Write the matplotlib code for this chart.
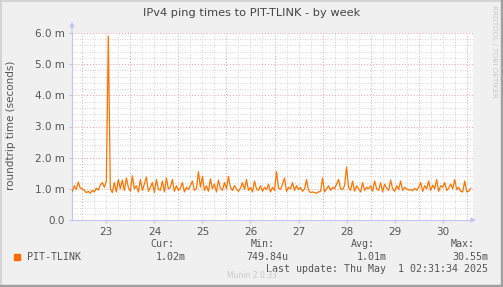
import matplotlib
matplotlib.use("Agg")
import matplotlib.pyplot as plt
import numpy as np

# ---- data ----
day_labels = ["23", "24", "25", "26", "27", "28", "29", "30"]
yticks = [0.0, 1.0, 2.0, 3.0, 4.0, 5.0, 6.0]
ytick_labels = ["0.0", "1.0 m", "2.0 m", "3.0 m", "4.0 m", "5.0 m", "6.0 m"]

pre = [0.92, 1.10, 0.98, 1.22, 1.02]
d23 = [1.00, 0.95, 0.88, 0.92, 0.86, 0.95, 0.90, 1.02, 0.96, 1.12, 1.20, 1.05,
       1.25, 5.90, 1.00, 0.88, 1.20, 0.90, 1.30, 1.00, 1.28, 0.95, 1.35, 1.05]
d24 = [0.92, 1.42, 1.00, 1.10, 0.90, 1.30, 0.95, 1.15, 1.38, 0.92, 1.05, 1.20,
       0.88, 1.30, 1.00, 0.95, 1.25, 0.90, 1.35, 1.00, 1.05, 1.30, 0.92, 1.10]
d25 = [0.95, 1.02, 1.20, 0.90, 1.05, 0.98, 1.10, 1.25, 0.95, 1.00, 1.55, 1.05,
       1.40, 0.95, 1.10, 0.92, 1.32, 1.00, 1.15, 0.90, 1.28, 1.02, 0.95, 1.20]
d26 = [1.00, 1.40, 1.05, 0.95, 1.10, 1.00, 0.92, 1.02, 1.20, 0.98, 1.30, 0.95,
       1.05, 0.90, 1.25, 1.00, 0.95, 1.10, 0.92, 1.05, 0.98, 1.15, 0.90, 1.05]
d27 = [0.95, 1.55, 1.02, 0.98, 1.15, 1.35, 0.92, 1.05, 1.00, 1.20, 0.95, 1.10,
       0.98, 1.05, 0.92, 1.00, 1.30, 0.95, 0.88, 0.90, 0.88, 0.86, 0.90, 0.92]
d28 = [1.35, 0.90, 1.00, 1.10, 0.95, 1.05, 1.00, 1.15, 1.30, 1.00, 0.98, 1.10,
       1.70, 1.05, 0.95, 1.25, 0.92, 1.10, 1.00, 0.90, 1.20, 0.95, 1.05, 1.00]
d29 = [1.10, 0.92, 1.25, 1.00, 0.95, 1.20, 0.90, 1.15, 1.02, 0.95, 1.28, 1.00,
       0.92, 1.10, 0.98, 1.25, 0.95, 1.05, 1.00, 0.96, 0.98, 0.94, 1.02, 0.95]
d30 = [1.05, 1.20, 0.92, 1.10, 1.00, 1.25, 0.95, 1.12, 1.00, 1.30, 0.92, 1.10,
       1.05, 1.20, 0.95, 1.02, 1.15, 1.00, 1.30, 0.98, 1.05, 0.92, 0.90, 1.25]
post = [0.90, 0.92, 1.02]

values_ms = np.array(pre + d23 + d24 + d25 + d26 + d27 + d28 + d29 + d30 + post)
# time axis in days (0 = Apr 22 00:00), hourly samples
t_start = 1.0 - 5 / 24
times = t_start + np.arange(len(values_ms)) / 24.0

legend_name = "PIT-TLINK"
cur, vmin, avg, vmax = "1.02m", "749.84u", "1.01m", "30.55m"
last_update = "Last update: Thu May  1 02:31:34 2025"

# ---- figure ----
W, H = 503, 287
fig = plt.figure(figsize=(W / 100, H / 100), dpi=100, facecolor="#F0F0F0")

ax_l, ax_r, ax_t, ax_b = 72, 473, 33, 220
ax = fig.add_axes([ax_l / W, 1 - ax_b / H, (ax_r - ax_l) / W, (ax_b - ax_t) / H])
ax.set_facecolor("white")
xmin, xmax = 0.7856, 9.131
ax.set_xlim(xmin, xmax)
ax.set_ylim(0, 6.0)

# grid
minor_col = "#C8C8C8"
major_col = "#F0A0A0"
for y in np.arange(0.2, 6.01, 0.2):
    if abs(y - round(y)) > 1e-6:
        ax.axhline(y, color=minor_col, lw=0.6, ls=(0, (1, 2)), zorder=1)
for x in np.arange(1.0 - 0.75, 9.5, 0.25):
    if xmin < x < xmax and abs(x - round(x)) > 1e-6:
        ax.axvline(x, color=minor_col, lw=0.6, ls=(0, (1, 2)), zorder=1)
for y in yticks[1:]:
    ax.axhline(y, color=major_col, lw=0.7, ls=(0, (1, 2)), zorder=1.5)
for d in range(1, 10):
    ax.axvline(d, color=major_col, lw=0.7, ls=(0, (1, 2)), zorder=1.5)

ax.plot(times, values_ms, color="#FF7400", lw=0.9, zorder=3)

for s in ["top", "right"]:
    ax.spines[s].set_visible(False)
axis_col = "#C4C4F4"
ax.spines["left"].set_color(axis_col)
ax.spines["bottom"].set_color(axis_col)
ax.spines["left"].set_linewidth(0.8)
ax.spines["bottom"].set_linewidth(0.8)
# arrows
ax.annotate("", xy=(xmin, 6.0 + 0.45), xytext=(xmin, 5.9),
            arrowprops=dict(arrowstyle="-|>", color=axis_col, lw=0.8, mutation_scale=7),
            annotation_clip=False)
ax.annotate("", xy=(xmax + 0.12, 0), xytext=(xmax - 0.05, 0),
            arrowprops=dict(arrowstyle="-|>", color=axis_col, lw=0.8, mutation_scale=7),
            annotation_clip=False)

txt_col = "#555555"
ax.set_yticks(yticks)
ax.set_yticklabels(ytick_labels, fontsize=7.5, color=txt_col)
ax.set_xticks([d + 0.5 for d in range(1, 9)])
ax.set_xticklabels(day_labels, fontsize=7.5, color=txt_col)
ax.tick_params(axis="both", length=2, color=axis_col, pad=3)

fig.text(11 / W, 1 - 125 / H, "roundtrip time (seconds)", rotation=90,
         ha="center", va="center", fontsize=7.5, color=txt_col)
fig.text(252 / W, 1 - 13 / H, "IPv4 ping times to PIT-TLINK - by week",
         ha="center", va="center", fontsize=8.2, color="#444444")
fig.text(494 / W, 1 - 5 / H, "RRDTOOL / TOBI OETIKER", rotation=270,
         ha="center", va="top", fontsize=5.2, color="#C8C8C8")

mono = "DejaVu Sans Mono"
fs = 7.2
def ft(x, y, s, ha="left"):
    fig.text(x / W, 1 - y / H, s, ha=ha, va="center", family=mono,
             fontsize=fs, color=txt_col)

ft(174, 244, "Cur:", ha="right")
ft(275, 244, "Min:", ha="right")
ft(375, 244, "Avg:", ha="right")
ft(475, 244, "Max:", ha="right")
ft(27, 257, legend_name)
ft(186, 257, cur, ha="right")
ft(288, 257, vmin, ha="right")
ft(387, 257, avg, ha="right")
ft(488, 257, vmax, ha="right")
ft(488, 269, last_update, ha="right")
fig.text(252 / W, 1 - 276 / H, "Munin 2.0.33", ha="center", va="center",
         fontsize=5.5, color="#C8C8C8")
fig.patches.append(plt.Rectangle((14 / W, 1 - 260 / H), 6 / W, 6 / H,
                                 transform=fig.transFigure, color="#FF6A00"))

# frame (3d look)
fig.add_artist(plt.Line2D([0, 1], [1 - 0.5 / H, 1 - 0.5 / H], color="#CFCFCF", lw=1.2))
fig.add_artist(plt.Line2D([0.5 / W, 0.5 / W], [0, 1], color="#CFCFCF", lw=1.2))
fig.add_artist(plt.Line2D([1 - 1.5 / W, 1 - 1.5 / W], [0, 1], color="#A0A0A0", lw=2.5))
fig.add_artist(plt.Line2D([0, 1], [1.5 / H, 1.5 / H], color="#A0A0A0", lw=2.5))

fig.savefig("out.png", dpi=100, facecolor=fig.get_facecolor())
